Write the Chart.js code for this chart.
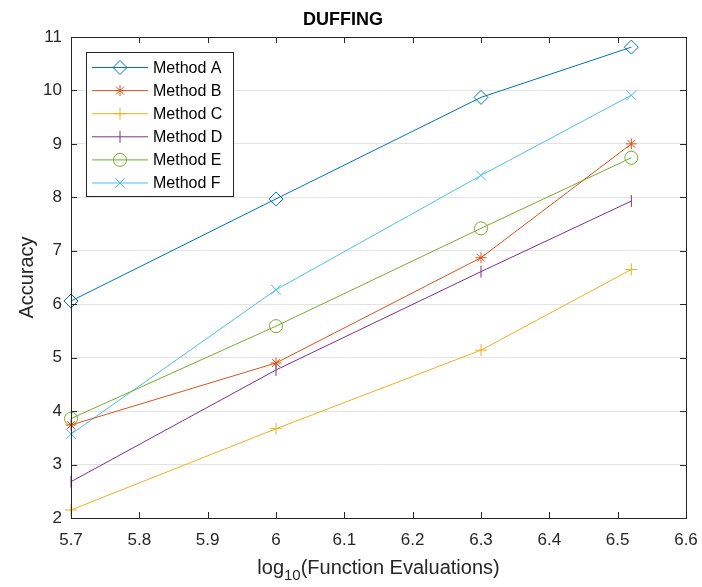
<!DOCTYPE html>
<html>
<head>
<meta charset="utf-8">
<script src="https://cdn.jsdelivr.net/npm/chart.js@4/dist/chart.umd.min.js"></script>
<style>
  html, body { margin: 0; padding: 0; background: #fff; }
  #wrap { width: 702px; height: 587px; }
</style>
</head>
<body>
<div id="wrap"><canvas id="duffingChart" width="702" height="587"></canvas></div>
<script>
// data
var xValues = [5.7, 6.0, 6.3, 6.52];
var methodA = [6.06, 7.97, 9.87, 10.81];
var methodB = [3.74, 4.90, 6.87, 9.00];
var methodC = [2.15, 3.67, 5.14, 6.65];
var methodD = [2.68, 4.77, 6.61, 7.93];
var methodE = [3.86, 5.59, 7.42, 8.74];
var methodF = [3.57, 6.27, 8.41, 9.91];
var seriesNames = ['Method A', 'Method B', 'Method C', 'Method D', 'Method E', 'Method F'];
var xTicks = [5.7, 5.8, 5.9, 6.0, 6.1, 6.2, 6.3, 6.4, 6.5, 6.6];
var yTicks = [2, 3, 4, 5, 6, 7, 8, 9, 10, 11];

var colors = ['#0072BD', '#D95319', '#EDB120', '#7E2F8E', '#77AC30', '#4DBEEE'];
var markers = [
    { style: 'rectRot', radius: 7, rotation: 0 },
    { style: 'star', radius: 5.5, rotation: 0 },
    { style: 'cross', radius: 6, rotation: 0 },
    { style: 'line', radius: 6, rotation: 90 },
    { style: 'circle', radius: 6.5, rotation: 0 },
    { style: 'crossRot', radius: 7, rotation: 0 }
];
var allSeries = [methodA, methodB, methodC, methodD, methodE, methodF];
var axisColor = '#262626';
var fontFam = '"Liberation Sans", Arial, Helvetica, sans-serif';

var datasets = allSeries.map(function (vals, i) {
    return {
        label: seriesNames[i],
        data: vals.map(function (v, j) { return { x: xValues[j], y: v }; }),
        borderColor: colors[i],
        backgroundColor: 'rgba(0,0,0,0)',
        borderWidth: 1,
        pointStyle: markers[i].style,
        pointRadius: markers[i].radius,
        pointRotation: markers[i].rotation,
        pointBorderColor: colors[i],
        pointBackgroundColor: 'rgba(0,0,0,0)',
        pointBorderWidth: 1,
        pointHoverRadius: markers[i].radius,
        tension: 0,
        clip: false
    };
});

// box, inward ticks, x title with subscript, legend
var matlabAxes = {
    id: 'matlabAxes',
    afterDraw: function (chart) {
        var ctx = chart.ctx;
        var a = chart.chartArea;
        var xs = chart.scales.x, ys = chart.scales.y;
        ctx.save();
        ctx.strokeStyle = axisColor;
        ctx.lineWidth = 1;
        ctx.strokeRect(Math.round(a.left) + 0.5, Math.round(a.top) + 0.5,
            Math.round(a.right - a.left), Math.round(a.bottom - a.top));
        ctx.beginPath();
        var tl = 6;
        xTicks.forEach(function (t) {
            var px = Math.round(xs.getPixelForValue(t)) + 0.5;
            ctx.moveTo(px, a.bottom); ctx.lineTo(px, a.bottom - tl);
            ctx.moveTo(px, a.top); ctx.lineTo(px, a.top + tl);
        });
        yTicks.forEach(function (t) {
            var py = Math.round(ys.getPixelForValue(t)) + 0.5;
            ctx.moveTo(a.left, py); ctx.lineTo(a.left + tl, py);
            ctx.moveTo(a.right, py); ctx.lineTo(a.right - tl, py);
        });
        ctx.stroke();

        // x axis title
        ctx.fillStyle = axisColor;
        ctx.textBaseline = 'alphabetic';
        var big = '20px ' + fontFam, small = '15px ' + fontFam;
        ctx.font = big;
        var w1 = ctx.measureText('log').width;
        var w3 = ctx.measureText('(Function Evaluations)').width;
        ctx.font = small;
        var w2 = ctx.measureText('10').width;
        var total = w1 + w2 + w3;
        var cx = (a.left + a.right) / 2;
        var bx = cx - total / 2, by = 574;
        ctx.font = big; ctx.fillText('log', bx, by);
        ctx.font = small; ctx.fillText('10', bx + w1, by + 6);
        ctx.font = big; ctx.fillText('(Function Evaluations)', bx + w1 + w2, by);

        // legend
        var lx = a.left + 15, ly = a.top + 15, lw = 147, lh = 144;
        ctx.fillStyle = '#ffffff';
        ctx.fillRect(lx, ly, lw, lh);
        ctx.strokeStyle = axisColor;
        ctx.strokeRect(lx + 0.5, ly + 0.5, lw, lh);
        ctx.font = '16px ' + fontFam;
        ctx.textBaseline = 'middle';
        chart.data.datasets.forEach(function (ds, i) {
            var ry = ly + 15.5 + i * 23.1;
            ctx.strokeStyle = ds.borderColor;
            ctx.lineWidth = 1;
            ctx.beginPath();
            ctx.moveTo(lx + 6, ry); ctx.lineTo(lx + 62, ry);
            ctx.stroke();
            ctx.fillStyle = 'rgba(0,0,0,0)';
            Chart.helpers.drawPoint(ctx, {
                pointStyle: ds.pointStyle,
                radius: ds.pointRadius,
                rotation: ds.pointRotation,
                borderWidth: 1
            }, lx + 34, ry);
            ctx.fillStyle = '#000000';
            ctx.fillText(ds.label, lx + 67, ry + 1);
        });
        ctx.restore();
    }
};

var ctx = document.getElementById('duffingChart').getContext('2d');
var duffingChart = new Chart(ctx, {
    type: 'line',
    data: { datasets: datasets },
    options: {
        responsive: false,
        animation: false,
        events: [],
        layout: { padding: { left: 0, right: 16, top: 0, bottom: 0 } },
        scales: {
            x: {
                type: 'linear',
                min: 5.7,
                max: 6.6,
                afterBuildTicks: function (s) { s.ticks = xTicks.map(function (v) { return { value: v }; }); },
                afterFit: function (s) { s.height = 69; s.paddingLeft = 0; s.paddingRight = 0; },
                grid: { display: false, drawTicks: false },
                border: { display: false },
                ticks: {
                    padding: 12,
                    color: axisColor,
                    font: { family: fontFam, size: 17 },
                    maxRotation: 0,
                    callback: function (v) { return String(Math.round(v * 10) / 10); }
                }
            },
            y: {
                type: 'linear',
                min: 2,
                max: 11,
                afterBuildTicks: function (s) { s.ticks = yTicks.map(function (v) { return { value: v }; }); },
                afterFit: function (s) { s.width = 71; s.paddingTop = 0; s.paddingBottom = 0; },
                grid: { color: '#e3e3e3', lineWidth: 1, drawTicks: false },
                border: { display: false },
                title: {
                    display: true,
                    text: 'Accuracy',
                    color: axisColor,
                    font: { family: fontFam, size: 20 },
                    padding: { top: 15, bottom: 0 }
                },
                ticks: {
                    padding: 9,
                    color: axisColor,
                    font: { family: fontFam, size: 17 },
                    callback: function (v) { return String(v); }
                }
            }
        },
        plugins: {
            legend: { display: false },
            tooltip: { enabled: false },
            title: {
                display: true,
                text: 'DUFFING',
                color: '#000000',
                font: { family: fontFam, size: 18, weight: 'bold' },
                padding: { top: 9, bottom: 6.4 }
            }
        }
    },
    plugins: [matlabAxes]
});
</script>
</body>
</html>
